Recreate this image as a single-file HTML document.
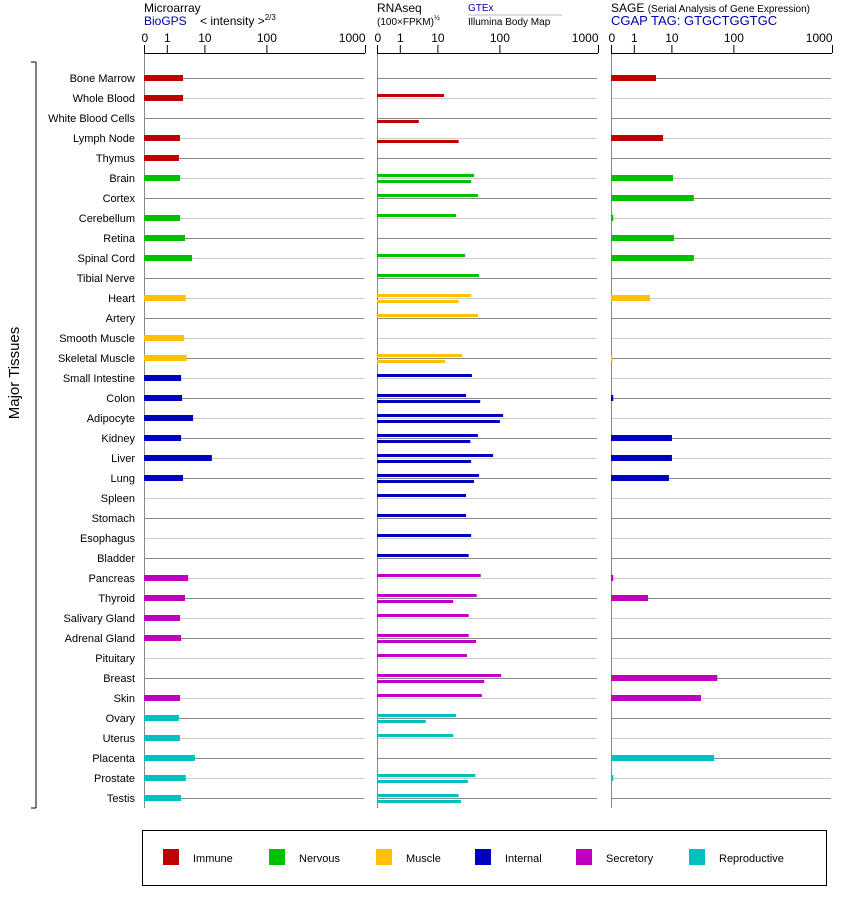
<!DOCTYPE html>
<html><head><meta charset="utf-8">
<style>
body{margin:0;background:#fff;}
svg{display:block;font-family:"Liberation Sans",sans-serif;}
</style></head>
<body>
<svg id="chart" width="842" height="900" viewBox="0 0 842 900" xmlns="http://www.w3.org/2000/svg">
  <g font-size="12">
    <text x="144" y="12" fill="#000">Microarray</text>
    <text x="144" y="25" fill="#0000aa">BioGPS</text>
    <text x="200" y="25" fill="#000">&lt; intensity &gt;<tspan font-size="8" dy="-5">2/3</tspan></text>
    <text x="377" y="12" fill="#000">RNAseq</text>
    <text x="377" y="25" fill="#000" font-size="10">(100×FPKM)<tspan font-size="7" dy="-5">½</tspan></text>
    <text x="468" y="11" fill="#0000aa" font-size="10">GTEx</text>
    <line x1="468" y1="15" x2="562" y2="15" stroke="#bbb"/>
    <text x="468" y="25" fill="#000" font-size="10">Illumina Body Map</text>
    <text x="611" y="12" fill="#000">SAGE <tspan font-size="10">(Serial Analysis of Gene Expression)</tspan></text>
    <text x="611" y="25" fill="#0000aa" font-size="13">CGAP TAG: GTGCTGGTGC</text>
  </g>
  <g id="plot"></g>
  <line x1="36" y1="62" x2="36" y2="808" stroke="#000"/>
  <line x1="31" y1="62" x2="36" y2="62" stroke="#000"/>
  <line x1="31" y1="808" x2="36" y2="808" stroke="#000"/>
  <text x="19" y="373" font-size="15" text-anchor="middle" transform="rotate(-90 19 373)">Major Tissues</text>
  <g id="legend">
    <rect x="142.5" y="830.5" width="684" height="55" fill="none" stroke="#000"/>
  </g>
</svg>
<script>
const tissues=["Bone Marrow","Whole Blood","White Blood Cells","Lymph Node","Thymus","Brain","Cortex","Cerebellum","Retina","Spinal Cord","Tibial Nerve","Heart","Artery","Smooth Muscle","Skeletal Muscle","Small Intestine","Colon","Adipocyte","Kidney","Liver","Lung","Spleen","Stomach","Esophagus","Bladder","Pancreas","Thyroid","Salivary Gland","Adrenal Gland","Pituitary","Breast","Skin","Ovary","Uterus","Placenta","Prostate","Testis"];
const groups=[0,0,0,0,0,1,1,1,1,1,1,2,2,2,2,3,3,3,3,3,3,3,3,3,3,4,4,4,4,4,4,4,5,5,5,5,5];
const groupNames=["Immune","Nervous","Muscle","Internal","Secretory","Reproductive"];
const groupColors=["#c00000","#00c000","#ffc000","#0000c0","#c000c0","#00c0c0"];
const microarray=[2.7,2.7,0,2.25,2.1,2.25,0,2.25,3.05,4.7,0,3.2,0,2.9,3.4,2.4,2.55,5.0,2.4,13.2,2.7,0,0,0,0,3.7,3.05,2.25,2.4,0,0,2.25,2.1,2.25,5.6,3.2,2.4];
const gtex=[0,12.8,0,0,0,39,45,20,0,28,47,35,45,0,25,36,29,109,45,79,47,29,29,35,32,50,43,32,32,30,104,52,20,18,0,41,22];
const illumina=[0,0,3.2,22,0,35,0,0,0,0,0,22,0,0,13.3,0,49,101,34,35,39,0,0,0,0,0,18,0,42,0,57,0,4.9,0,0,31,24];
const sage=[3.9,0,0,6.0,0,10.6,23,0.1,11,23,0,2.7,0,0,0.05,0,0.1,0,10.2,10.2,8.6,0,0,0,0,0.1,2.4,0,0,0,55,30,0,0,49,0.1,0];
const tickValues=[0,1,10,100,1000];
const tickLabels=["0","1","10","100","1000"];

const NS="http://www.w3.org/2000/svg";
const plot=document.getElementById('plot');
function mk(tag,attrs,parent){const e=document.createElementNS(NS,tag);for(const k in attrs)e.setAttribute(k,attrs[k]);(parent||plot).appendChild(e);return e;}
// axis scale: piecewise between tick positions
function scale(v){
  if(v<=0)return 0;
  if(v<=1)return 22.8*v;
  const l=Math.log10(v);
  if(l<=1)return 22.8+37.6*l;
  if(l<=2)return 60.4+62*(l-1);
  return 122.4+98.6*(l-2);
}
function rowY(i){return 78+20*i;}
const panels=[{x:144,name:"microarray"},{x:377,name:"rnaseq"},{x:611,name:"sage"}];
const W=220;
// row labels
tissues.forEach((t,i)=>{
  const tx=mk('text',{x:135,y:rowY(i)+4,'font-size':11,'text-anchor':'end',fill:'#000'});
  tx.textContent=t;
  
  
});
panels.forEach(p=>{
  // row lines
  tissues.forEach((t,i)=>{
    const ln=mk('line',{x1:p.x,x2:p.x+W,y1:rowY(i)+0.5,y2:rowY(i)+0.5,stroke:i%2==0?'#888':'#ccc','stroke-width':1});
    
    
  });
  const ax=mk('line',{x1:p.x+0.5,x2:p.x+0.5,y1:53,y2:808,stroke:'#888'});
  
  
  const top=mk('line',{x1:p.x,x2:p.x+W+1,y1:53.5,y2:53.5,stroke:'#000'});
  
  
  tickValues.forEach((v,k)=>{
    const x=p.x+scale(v)+0.5;
    const tk=mk('line',{x1:x,x2:x,y1:45,y2:53,stroke:'#000'});
    
    
    const tl=mk('text',{x:x,y:42,'font-size':12,'text-anchor':k==0?'start':(k==4?'end':'middle'),fill:'#000'});
    if(k==0)tl.setAttribute('x',x-3);
    tl.textContent=tickLabels[k];
    
    
  });
});
function bar(px,y,h,v,color,name){
  const w=scale(v);
  if(w<=0)return;
  const r=mk('rect',{x:px,y:y,width:Math.max(w,1.5),height:h,fill:color});
  
  
}
tissues.forEach((t,i)=>{
  const c=groupColors[groups[i]],y=rowY(i);
  bar(144,y-3,6,microarray[i],c,'microarray-bar');
  bar(377,y-4,3,gtex[i],c,'gtex-bar');
  bar(377,y+2,3,illumina[i],c,'illumina-bar');
  bar(611,y-3,6,sage[i],c,'sage-bar');
});
const legend=document.getElementById('legend');
const lx=[163,269,376,475,576,689];
groupNames.forEach((g,k)=>{
  const s=mk('rect',{x:lx[k],y:849,width:16,height:16,fill:groupColors[k]},legend);
  
  
  const t=mk('text',{x:lx[k]+30,y:862,'font-size':11,fill:'#000'},legend);
  t.textContent=g;
  
  
});
</script>
</body></html>
